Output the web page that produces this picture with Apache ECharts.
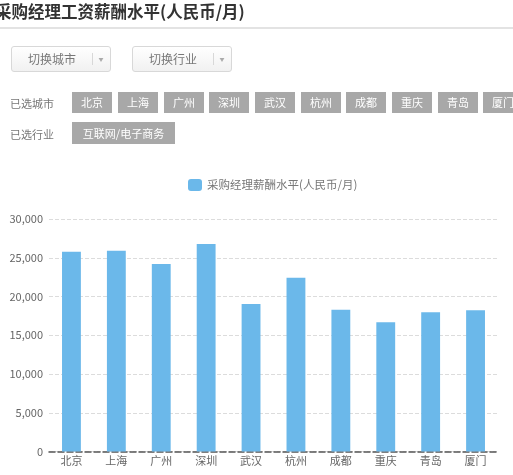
<!DOCTYPE html>
<html>
<head>
<meta charset="utf-8">
<script src="https://cdn.jsdelivr.net/npm/echarts@6/dist/echarts.min.js"></script>
<style>
  html, body { margin:0; padding:0; width:513px; height:475px; overflow:hidden; background:#fff;
    font-family:"Noto Sans CJK SC","Noto Sans",sans-serif; }
  #chart { position:absolute; left:0; top:0; width:513px; height:475px; }
  .abs { position:absolute; white-space:nowrap; }
  #title { left:-5px; top:1px; font-size:16.5px; font-weight:bold; color:#333; line-height:20px; }
  #rule { left:0; top:27px; width:513px; height:2px; background:#e3e3e3; }
  .btn { top:46px; width:100px; height:26px; border:1px solid #d8d8d8; border-radius:3px;
    background:linear-gradient(#ffffff,#f1f1f1); box-sizing:border-box; }
  .btn .t { position:absolute; left:0; width:80px; top:0; line-height:24px; text-align:center; font-size:12px; color:#777; }
  .btn .s { position:absolute; left:80px; top:6px; width:1px; height:12px; background:#d8d8d8; }
  .btn .a { position:absolute; left:86px; width:6px; top:0; line-height:24px; text-align:center; font-size:5px; color:#aaa; }
  .lbl { left:10px; font-size:11px; color:#777; line-height:14px; }
  .tag { height:21px; line-height:21px; background:#a8a8a8; color:#fff; font-size:11px; text-align:center; }
</style>
</head>
<body>
<div id="chart"></div>
<div id="header"></div>
<script>
// ---- data ----
var titleText = '采购经理工资薪酬水平(人民币/月)';
var buttonLabels = ['切换城市', '切换行业'];
var cityTags = ['北京','上海','广州','深圳','武汉','杭州','成都','重庆','青岛','厦门'];
var industryTags = ['互联网/电子商务'];
var seriesName = '采购经理薪酬水平(人民币/月)';
var categories = ['北京','上海','广州','深圳','武汉','杭州','成都','重庆','青岛','厦门'];
var values = [25780, 25910, 24190, 26770, 19030, 22430, 18300, 16670, 17960, 18220];
var yMin = 0, yMax = 30000, yStep = 5000;

// ---- header (HTML) ----
var h = document.getElementById('header');
function add(cls, id, html, style) {
  var d = document.createElement('div');
  d.className = 'abs ' + cls;
  if (id) d.id = id;
  d.innerHTML = html;
  if (style) d.style.cssText = style;
  h.appendChild(d);
  return d;
}
add('', 'title', titleText);
add('', 'rule', '');
var btnLefts = [11, 132];
buttonLabels.forEach(function (b, i) {
  add('btn', null, '<div class="t">' + b + '</div><div class="s"></div><div class="a">▼</div>',
      'left:' + btnLefts[i] + 'px;');
});
add('lbl', null, '已选城市', 'top:96px;');
add('lbl', null, '已选行业', 'top:127px;');
var tagLefts = [72, 118, 164, 209, 255, 301, 346, 392, 438, 483];
cityTags.forEach(function (c, i) {
  add('tag', null, c, 'left:' + tagLefts[i] + 'px;top:92px;width:40px;');
});
industryTags.forEach(function (c, i) {
  add('tag', null, c, 'left:72px;top:122px;width:103px;height:22px;line-height:22px;');
});

// ---- chart ----
var chart = echarts.init(document.getElementById('chart'));
chart.setOption({
  animation: false,
  textStyle: { fontFamily: '"Noto Sans CJK SC","Noto Sans",sans-serif' },
  legend: {
    left: 183, top: 174,
    itemWidth: 14, itemHeight: 12, itemGap: 10,
    icon: 'roundRect',
    textStyle: { color: '#777', fontSize: 11.5 },
    data: [seriesName]
  },
  grid: { left: 49, right: 15, top: 219, bottom: 23.5, containLabel: false },
  xAxis: {
    type: 'category',
    data: categories,
    axisTick: { show: false },
    axisLine: { show: true, lineStyle: { color: '#555', type: 'dashed', width: 1.5 } },
    axisLabel: { color: '#666', fontSize: 11, margin: 4 }
  },
  yAxis: {
    type: 'value',
    min: yMin, max: yMax, interval: yStep,
    axisLine: { show: false },
    axisTick: { show: false },
    axisLabel: {
      color: '#666', fontSize: 11, margin: 6,
      formatter: function (v) { return v.toLocaleString('en-US'); }
    },
    splitLine: { lineStyle: { color: '#dcdcdc', type: 'dashed' } }
  },
  series: [{
    name: seriesName,
    type: 'bar',
    data: values,
    barWidth: '42%',
    itemStyle: { color: '#6bb8ea' }
  }]
});
</script>
</body>
</html>
